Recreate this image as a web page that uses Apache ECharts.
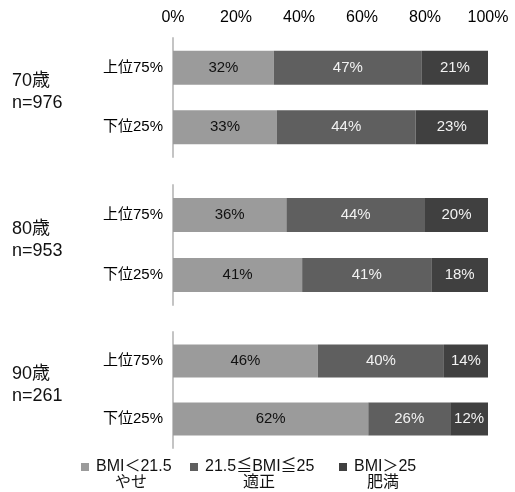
<!DOCTYPE html>
<html>
<head>
<meta charset="utf-8">
<script src="https://cdn.jsdelivr.net/npm/echarts@6/dist/echarts.min.js"></script>
<style>
  html, body { margin: 0; padding: 0; background: #fff; }
  #chart { width: 515px; height: 492px; }
</style>
</head>
<body>
<div id="chart"></div>
<script>
// Rows inside each age group
const categories = ['上位75%', '下位25%'];
// Age groups and sample sizes
const ageGroups = ['70歳', '80歳', '90歳'];
const sampleSizes = ['n=976', 'n=953', 'n=261'];
// Share (%) per BMI band, one [上位75%, 下位25%] pair per age group
const thinValues = [[32, 33], [36, 41], [46, 62]];
const normalValues = [[47, 44], [44, 41], [40, 26]];
const obeseValues = [[21, 23], [20, 18], [14, 12]];
// Legend entries and their second line
const bandNames = ['BMI＜21.5', '21.5≦BMI≦25', 'BMI＞25'];
const bandSubtitles = ['やせ', '適正', '肥満'];
// Axis tick labels
const xTicks = [0, 20, 40, 60, 80, 100];

const FONT = '"Liberation Sans", "Noto Sans CJK JP", sans-serif';
const bandColors = ['#9b9b9b', '#5f5f5f', '#404040'];
const labelColors = ['#111', '#f2f2f2', '#f2f2f2'];
const bandValues = [thinValues, normalValues, obeseValues];

// Layout of the three stacked panels
const gridTops = [38, 185, 332];
const gridHeights = [119, 120, 116];

const grids = [], xAxes = [], yAxes = [], series = [], graphics = [];

ageGroups.forEach((age, g) => {
  grids.push({ left: 173, width: 315, top: gridTops[g], height: gridHeights[g] });
  xAxes.push({
    gridIndex: g, type: 'value', position: 'top',
    min: xTicks[0], max: xTicks[xTicks.length - 1], interval: xTicks[1] - xTicks[0],
    axisLine: { show: false }, axisTick: { show: false }, splitLine: { show: false },
    axisLabel: {
      show: g === 0, formatter: '{value}%', margin: 12,
      color: '#000', fontSize: 16, fontFamily: FONT
    }
  });
  yAxes.push({
    gridIndex: g, type: 'category', data: categories, inverse: true,
    axisLine: { show: true, lineStyle: { color: '#c4c4c4', width: 2 } },
    axisTick: { show: false },
    axisLabel: { margin: 10, color: '#000', fontSize: 15, fontFamily: FONT }
  });
  bandNames.forEach((name, b) => {
    series.push({
      name: name, type: 'bar', stack: 'age' + g,
      xAxisIndex: g, yAxisIndex: g,
      barCategoryGap: '43%',
      itemStyle: { color: bandColors[b] },
      label: {
        show: true, position: 'inside', formatter: '{c}%',
        color: labelColors[b], fontSize: 15, fontFamily: FONT
      },
      data: bandValues[b][g]
    });
  });
  const mid = gridTops[g] + gridHeights[g] / 2;
  graphics.push({
    type: 'text', left: 12, top: mid - 27,
    style: { text: age + '\n' + sampleSizes[g], fill: '#111', font: '18px ' + FONT, lineHeight: 22 }
  });
});

// Legend: one component per band so each can be placed on its own
const legendLefts = [76, 185, 334];
const legends = bandNames.map((name, b) => ({
  data: [name], left: legendLefts[b], top: 454,
  icon: 'rect', itemWidth: 8, itemHeight: 8, itemGap: 0,
  selectedMode: false,
  textStyle: { color: '#111', fontSize: 16, fontFamily: FONT, padding: [0, 0, 0, 2] }
}));
const subCenters = [131, 259, 383];
bandSubtitles.forEach((txt, b) => {
  graphics.push({
    type: 'text', x: subCenters[b], y: 483,
    style: { text: txt, fill: '#111', font: '16px ' + FONT, align: 'center', verticalAlign: 'middle' }
  });
});

const chart = echarts.init(document.getElementById('chart'));
chart.setOption({
  animation: false,
  backgroundColor: '#fff',
  grid: grids, xAxis: xAxes, yAxis: yAxes,
  legend: legends,
  series: series,
  graphic: graphics
});
</script>
</body>
</html>
